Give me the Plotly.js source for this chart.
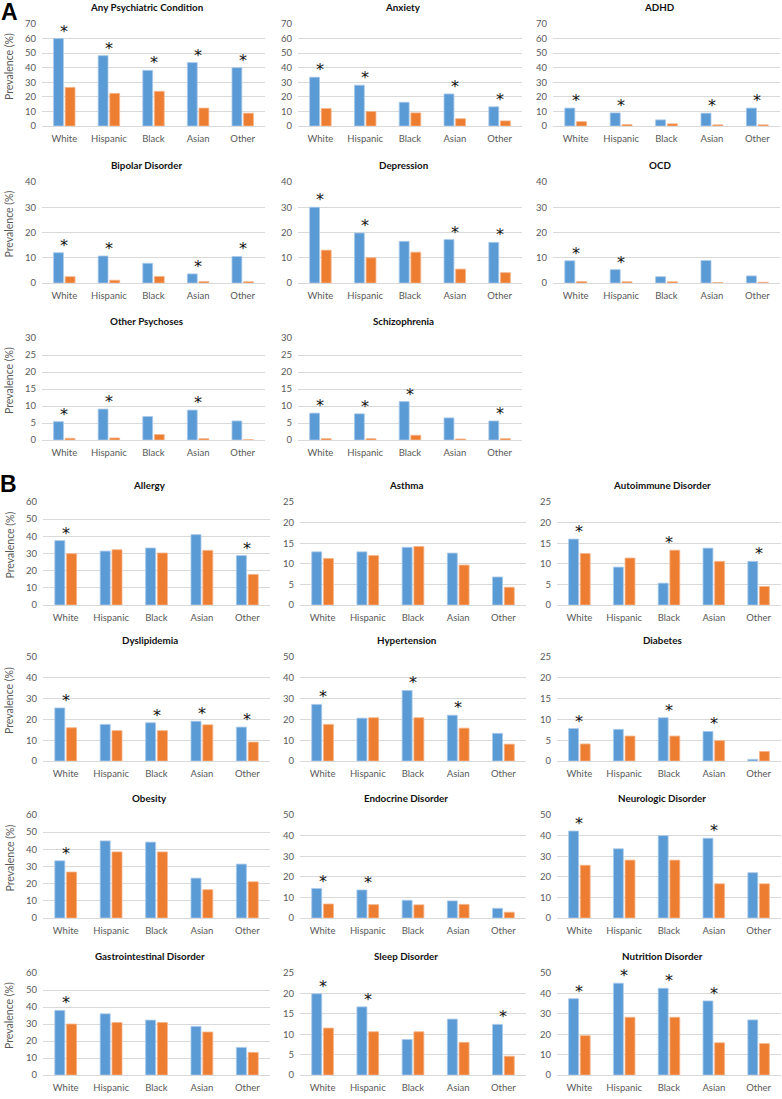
<!DOCTYPE html>
<html>
<head>
<meta charset="utf-8">
<script src="https://cdn.plot.ly/plotly-3.0.1.min.js"></script>
<style>html,body{margin:0;padding:0;background:#fff;}#chart{width:782px;height:1099px;}</style>
</head>
<body>
<div id="chart"></div>
<script>
// ---------- DATA ----------
const categories = ['White', 'Hispanic', 'Black', 'Asian', 'Other'];

const anyPsychBlue   = [60.0, 48.3, 38.2, 43.5, 40.0];
const anyPsychOrange = [26.5, 22.4, 23.8, 12.3, 8.8];
const anyPsychSig    = [1, 1, 1, 1, 1];

const anxietyBlue   = [33.5, 28.0, 16.3, 22.0, 13.2];
const anxietyOrange = [12.0, 10.0, 9.0, 5.0, 3.5];
const anxietySig    = [1, 1, 0, 1, 1];

const adhdBlue   = [12.3, 9.0, 4.2, 8.8, 12.3];
const adhdOrange = [3.0, 1.0, 1.5, 0.8, 0.8];
const adhdSig    = [1, 1, 0, 1, 1];

const bipolarBlue   = [12.0, 10.7, 7.8, 3.6, 10.5];
const bipolarOrange = [2.5, 1.1, 2.6, 0.6, 0.5];
const bipolarSig    = [1, 1, 0, 1, 1];

const depressionBlue   = [30.0, 19.8, 16.5, 17.2, 16.1];
const depressionOrange = [13.0, 10.0, 12.2, 5.5, 4.1];
const depressionSig    = [1, 1, 0, 1, 1];

const ocdBlue   = [8.8, 5.3, 2.5, 8.9, 2.8];
const ocdOrange = [0.6, 0.5, 0.5, 0.2, 0.3];
const ocdSig    = [1, 1, 0, 0, 0];

const otherPsyBlue   = [5.4, 9.1, 6.9, 8.8, 5.6];
const otherPsyOrange = [0.5, 0.6, 1.6, 0.4, 0.1];
const otherPsySig    = [1, 1, 0, 1, 0];

const schizoBlue   = [7.9, 7.7, 11.3, 6.5, 5.6];
const schizoOrange = [0.4, 0.4, 1.4, 0.3, 0.4];
const schizoSig    = [1, 1, 1, 0, 1];

const allergyBlue   = [37.5, 31.4, 33.2, 41.0, 28.8];
const allergyOrange = [29.9, 32.2, 30.3, 31.8, 17.8];
const allergySig    = [1, 0, 0, 0, 1];

const asthmaBlue   = [12.9, 12.9, 14.0, 12.6, 6.8];
const asthmaOrange = [11.3, 12.0, 14.2, 9.7, 4.3];
const asthmaSig    = [0, 0, 0, 0, 0];

const autoimmuneBlue   = [16.0, 9.2, 5.3, 13.8, 10.6];
const autoimmuneOrange = [12.5, 11.4, 13.3, 10.6, 4.5];
const autoimmuneSig    = [1, 0, 1, 0, 1];

const dyslipBlue   = [25.5, 17.6, 18.4, 19.1, 16.3];
const dyslipOrange = [16.0, 14.6, 14.6, 17.4, 9.1];
const dyslipSig    = [1, 0, 1, 1, 1];

const hypertBlue   = [27.2, 20.6, 33.9, 22.0, 13.3];
const hypertOrange = [17.6, 20.8, 20.8, 15.8, 8.1];
const hypertSig    = [1, 0, 1, 1, 0];

const diabetesBlue   = [7.8, 7.6, 10.4, 7.1, 0.4];
const diabetesOrange = [4.1, 6.0, 6.0, 4.9, 2.3];
const diabetesSig    = [1, 0, 1, 1, 0];

const obesityBlue   = [33.3, 44.9, 44.2, 23.2, 31.4];
const obesityOrange = [26.8, 38.5, 38.5, 16.5, 21.1];
const obesitySig    = [1, 0, 0, 0, 0];

const endocrineBlue   = [14.3, 13.6, 8.6, 8.3, 4.7];
const endocrineOrange = [6.8, 6.5, 6.4, 6.6, 2.8];
const endocrineSig    = [1, 1, 0, 0, 0];

const neuroBlue   = [42.2, 33.6, 40.0, 38.7, 22.0];
const neuroOrange = [25.6, 28.1, 28.1, 16.6, 16.6];
const neuroSig    = [1, 0, 0, 1, 0];

const giBlue   = [38.0, 36.0, 32.3, 28.6, 16.2];
const giOrange = [30.0, 30.9, 30.9, 25.3, 13.3];
const giSig    = [1, 0, 0, 0, 0];

const sleepBlue   = [19.9, 16.7, 8.7, 13.7, 12.4];
const sleepOrange = [11.5, 10.6, 10.6, 8.0, 4.6];
const sleepSig    = [1, 1, 0, 0, 1];

const nutritionBlue   = [37.4, 45.0, 42.5, 36.3, 27.0];
const nutritionOrange = [19.3, 28.3, 28.3, 15.8, 15.4];
const nutritionSig    = [1, 1, 1, 1, 0];

const charts = [
  {title: 'Any Psychiatric Condition', blue: anyPsychBlue, orange: anyPsychOrange, sig: anyPsychSig, ymax: 70, dtick: 10, row: 0, col: 0},
  {title: 'Anxiety', blue: anxietyBlue, orange: anxietyOrange, sig: anxietySig, ymax: 70, dtick: 10, row: 0, col: 1},
  {title: 'ADHD', blue: adhdBlue, orange: adhdOrange, sig: adhdSig, ymax: 70, dtick: 10, row: 0, col: 2},
  {title: 'Bipolar Disorder', blue: bipolarBlue, orange: bipolarOrange, sig: bipolarSig, ymax: 40, dtick: 10, row: 1, col: 0},
  {title: 'Depression', blue: depressionBlue, orange: depressionOrange, sig: depressionSig, ymax: 40, dtick: 10, row: 1, col: 1},
  {title: 'OCD', blue: ocdBlue, orange: ocdOrange, sig: ocdSig, ymax: 40, dtick: 10, row: 1, col: 2},
  {title: 'Other Psychoses', blue: otherPsyBlue, orange: otherPsyOrange, sig: otherPsySig, ymax: 30, dtick: 5, row: 2, col: 0},
  {title: 'Schizophrenia', blue: schizoBlue, orange: schizoOrange, sig: schizoSig, ymax: 30, dtick: 5, row: 2, col: 1},
  {title: 'Allergy', blue: allergyBlue, orange: allergyOrange, sig: allergySig, ymax: 60, dtick: 10, row: 3, col: 0},
  {title: 'Asthma', blue: asthmaBlue, orange: asthmaOrange, sig: asthmaSig, ymax: 25, dtick: 5, row: 3, col: 1},
  {title: 'Autoimmune Disorder', blue: autoimmuneBlue, orange: autoimmuneOrange, sig: autoimmuneSig, ymax: 25, dtick: 5, row: 3, col: 2},
  {title: 'Dyslipidemia', blue: dyslipBlue, orange: dyslipOrange, sig: dyslipSig, ymax: 50, dtick: 10, row: 4, col: 0},
  {title: 'Hypertension', blue: hypertBlue, orange: hypertOrange, sig: hypertSig, ymax: 50, dtick: 10, row: 4, col: 1},
  {title: 'Diabetes', blue: diabetesBlue, orange: diabetesOrange, sig: diabetesSig, ymax: 25, dtick: 5, row: 4, col: 2},
  {title: 'Obesity', blue: obesityBlue, orange: obesityOrange, sig: obesitySig, ymax: 60, dtick: 10, row: 5, col: 0},
  {title: 'Endocrine Disorder', blue: endocrineBlue, orange: endocrineOrange, sig: endocrineSig, ymax: 50, dtick: 10, row: 5, col: 1},
  {title: 'Neurologic Disorder', blue: neuroBlue, orange: neuroOrange, sig: neuroSig, ymax: 50, dtick: 10, row: 5, col: 2},
  {title: 'Gastrointestinal Disorder', blue: giBlue, orange: giOrange, sig: giSig, ymax: 60, dtick: 10, row: 6, col: 0},
  {title: 'Sleep Disorder', blue: sleepBlue, orange: sleepOrange, sig: sleepSig, ymax: 25, dtick: 5, row: 6, col: 1},
  {title: 'Nutrition Disorder', blue: nutritionBlue, orange: nutritionOrange, sig: nutritionSig, ymax: 50, dtick: 10, row: 6, col: 2}
];

const yTitle = 'Prevalence (%)';

// ---------- LAYOUT GEOMETRY (pixels) ----------
const W = 782, H = 1099;
const colsA = [[42, 265], [298, 522], [553, 780]];
const colsB = [[43, 270], [300, 526], [557, 781]];
const rows = [[24, 126], [182, 283], [338, 440], [502, 605], [657, 761], [815, 918], [973, 1075]];

const FONT = 'Lato, "Open Sans", "Liberation Sans", sans-serif';
const STARFONT = '"DejaVu Sans", "Liberation Sans", sans-serif';
const BLUE = '#5B9BD5', ORANGE = '#ED7D31';
const GRID = '#D9D9D9', TICK = '#595959';

const data = [];
const layout = {
  width: W, height: H,
  margin: {l: 0, r: 0, t: 0, b: 0},
  paper_bgcolor: '#fff', plot_bgcolor: '#fff',
  showlegend: false,
  barmode: 'group',
  bargap: 0.48,
  bargroupgap: 0.15,
  font: {family: FONT, color: TICK},
  annotations: []
};

charts.forEach((c, i) => {
  const n = i + 1;
  const xa = n === 1 ? 'x' : 'x' + n;
  const ya = n === 1 ? 'y' : 'y' + n;
  const cols = c.row < 3 ? colsA : colsB;
  const [x0, x1] = cols[c.col];
  const [y0, y1] = rows[c.row];

  data.push({
    type: 'bar', x: categories, y: c.blue, xaxis: xa, yaxis: ya,
    marker: {color: BLUE, line: {color: '#A9C9EA', width: 0.8}},
    hoverinfo: 'y'
  });
  data.push({
    type: 'bar', x: categories, y: c.orange, xaxis: xa, yaxis: ya,
    marker: {color: ORANGE, line: {color: '#F5B58C', width: 0.8}},
    hoverinfo: 'y'
  });

  layout['xaxis' + (n === 1 ? '' : n)] = {
    domain: [x0 / W, x1 / W], anchor: ya, type: 'category',
    showgrid: false, zeroline: false, showline: true, linecolor: GRID, linewidth: 1,
    ticks: '', tickfont: {family: FONT, size: 9.5, color: TICK},
    ticklabelstandoff: 4, fixedrange: true
  };
  layout['yaxis' + (n === 1 ? '' : n)] = {
    domain: [1 - y1 / H, 1 - y0 / H], anchor: xa,
    range: [0, c.ymax], dtick: c.dtick, tick0: 0,
    showgrid: true, gridcolor: GRID, gridwidth: 1, zeroline: false, showline: false,
    ticks: '', tickfont: {family: FONT, size: 9.5, color: TICK},
    ticklabelstandoff: 5, fixedrange: true
  };

  // chart title
  layout.annotations.push({
    xref: 'paper', yref: 'paper',
    x: ((x0 + x1) / 2 - 7) / W, y: 1 - (y0 - 17) / H,
    xanchor: 'center', yanchor: 'middle', showarrow: false,
    text: '<b>' + c.title + '</b>',
    font: {family: FONT, size: 9.8, color: '#111'}
  });

  // y-axis title on left column
  if (c.col === 0) {
    layout.annotations.push({
      xref: 'paper', yref: 'paper',
      x: 9 / W, y: 1 - ((y0 + y1) / 2 - 8) / H,
      xanchor: 'center', yanchor: 'middle', showarrow: false, textangle: -90,
      text: yTitle, font: {family: FONT, size: 10.5, color: TICK}
    });
  }

  // significance asterisks
  c.sig.forEach((s, k) => {
    if (!s) return;
    layout.annotations.push({
      xref: xa, yref: ya, x: categories[k], y: Math.max(c.blue[k], c.orange[k]),
      xanchor: 'center', yanchor: 'bottom', yshift: -4, showarrow: false,
      text: '*', font: {family: STARFONT, size: 16, color: '#111'}
    });
  });
});

// panel letters
layout.annotations.push({xref: 'paper', yref: 'paper', x: 9 / W, y: 1 - 12 / H, xanchor: 'center', yanchor: 'middle',
  showarrow: false, text: '<b>A</b>', font: {family: '"Liberation Sans", Arial, sans-serif', size: 23, color: '#000'}});
layout.annotations.push({xref: 'paper', yref: 'paper', x: 8 / W, y: 1 - 484 / H, xanchor: 'center', yanchor: 'middle',
  showarrow: false, text: '<b>B</b>', font: {family: '"Liberation Sans", Arial, sans-serif', size: 23, color: '#000'}});

Plotly.newPlot('chart', data, layout, {staticPlot: true, displayModeBar: false});
</script>
</body>
</html>
